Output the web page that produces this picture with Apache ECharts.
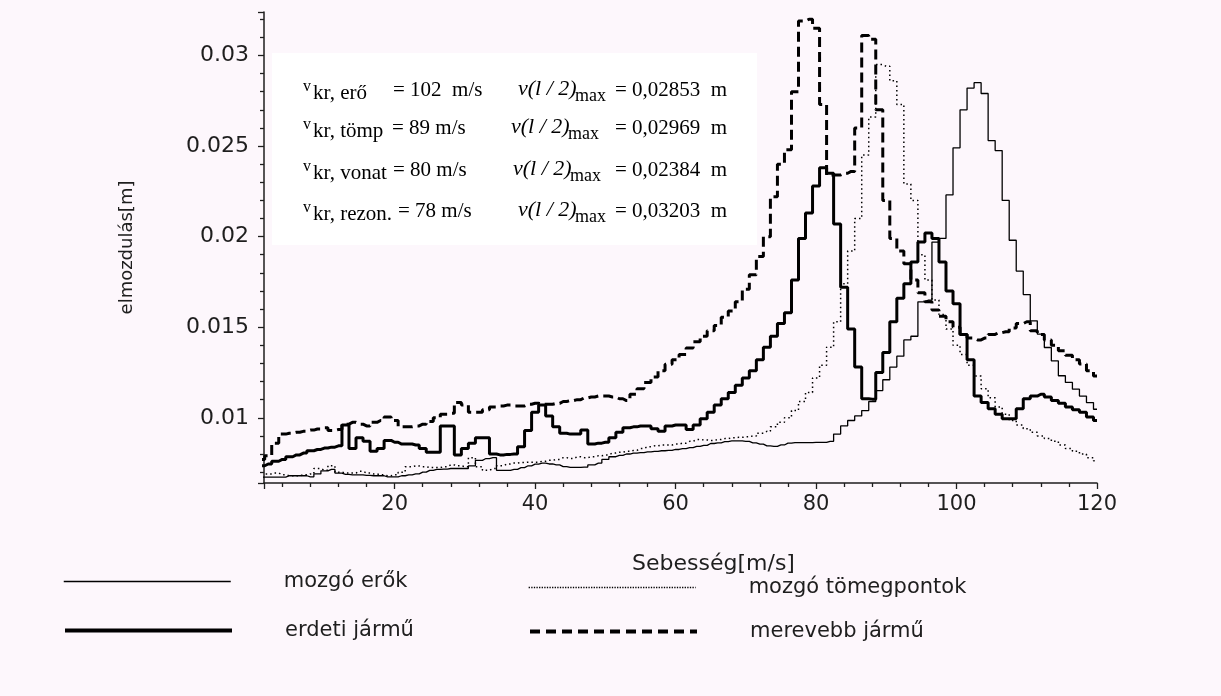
<!DOCTYPE html>
<html>
<head>
<meta charset="utf-8">
<script src="https://cdn.jsdelivr.net/npm/echarts@6/dist/echarts.min.js"></script>
<style>
  html, body { margin: 0; padding: 0; background: #fdf7fc; }
  #chart { width: 1221px; height: 696px; }
</style>
</head>
<body>
<div id="chart"></div>
<script>
// sebesség [m/s], 1..120
var speeds = []
for (var s = 1; s <= 120; s++) speeds.push(s)

// elmozdulás [m] minden sebességnél
var erok = [
  0.00672, 0.00672, 0.00672, 0.00672, 0.0068, 0.0068, 0.0068, 0.00674, 0.0069, 0.00707,
  0.00715, 0.00695, 0.00688, 0.00685, 0.00685, 0.00682, 0.0068, 0.0068, 0.00674, 0.00674,
  0.0068, 0.00685, 0.0069, 0.007, 0.0071, 0.00715, 0.00717, 0.0072, 0.0072, 0.0072,
  0.00735, 0.00765, 0.00775, 0.0078, 0.0071, 0.0071, 0.00715, 0.00725, 0.00735, 0.00744,
  0.0075, 0.00745, 0.0074, 0.0073, 0.00726, 0.00726, 0.00728, 0.0074, 0.0075, 0.0077,
  0.00785, 0.00792, 0.008, 0.00805, 0.00808, 0.00812, 0.00815, 0.00818, 0.0082, 0.00825,
  0.0083, 0.00835, 0.00842, 0.00848, 0.00858, 0.00862, 0.00868, 0.00872, 0.00872, 0.0087,
  0.00862, 0.00855, 0.00845, 0.00842, 0.0085, 0.0086, 0.00863, 0.00863, 0.00863, 0.00864,
  0.00864, 0.0087, 0.0091, 0.00955, 0.00985, 0.0101, 0.0104, 0.0109, 0.0115, 0.0121,
  0.0128, 0.0134, 0.0143, 0.0145, 0.0164, 0.0165, 0.0197, 0.0199, 0.0223, 0.0249,
  0.027, 0.0282, 0.0285, 0.0279, 0.0253, 0.02475, 0.022, 0.0198, 0.0181, 0.0168,
  0.01535, 0.01462, 0.01388, 0.01314, 0.01232, 0.01195, 0.01158, 0.0112, 0.01084, 0.01047
]
var tomegpont = [
  0.0069, 0.0069, 0.00695, 0.00685, 0.0068, 0.0068, 0.00685, 0.0069, 0.0072, 0.0071,
  0.00735, 0.007, 0.00695, 0.00695, 0.00705, 0.00695, 0.0069, 0.00685, 0.0068, 0.00685,
  0.007, 0.0073, 0.00734, 0.0073, 0.00725, 0.00725, 0.0073, 0.0074, 0.00735, 0.0073,
  0.0078, 0.0073, 0.0071, 0.0072, 0.00735, 0.00745, 0.0075, 0.00753, 0.00755, 0.00755,
  0.0076, 0.00765, 0.0077, 0.0078, 0.00775, 0.00785, 0.0078, 0.00785, 0.0079, 0.00795,
  0.00805, 0.0081, 0.00815, 0.0082, 0.0083, 0.0084, 0.00845, 0.0085, 0.0085, 0.00855,
  0.0086, 0.0087, 0.0088, 0.00878, 0.00875, 0.0088, 0.00885, 0.0089, 0.00892, 0.00895,
  0.009, 0.00915, 0.00925, 0.0095, 0.00975, 0.01, 0.0104, 0.0109, 0.0114, 0.0122,
  0.0129, 0.0139, 0.0153, 0.0174, 0.0192, 0.021, 0.0245, 0.0266, 0.0295, 0.0294,
  0.0286, 0.0273, 0.0229, 0.022, 0.019, 0.0176, 0.0165, 0.0157, 0.0149, 0.014,
  0.0135, 0.0129, 0.0123, 0.0116, 0.0111, 0.0106, 0.0102, 0.00985, 0.0096, 0.0094,
  0.0092, 0.009, 0.00885, 0.0087, 0.0085, 0.0083, 0.00815, 0.008, 0.0078, 0.00763
]
var erdeti = [
  0.00735, 0.00745, 0.0076, 0.0077, 0.00785, 0.00795, 0.00805, 0.00818, 0.00825, 0.00833,
  0.00838, 0.00845, 0.0096, 0.0083, 0.0089, 0.0087, 0.00815, 0.0083, 0.00875, 0.00865,
  0.00855, 0.00855, 0.0085, 0.0083, 0.0081, 0.0081, 0.00955, 0.00955, 0.00795, 0.0083,
  0.0086, 0.0089, 0.0089, 0.008, 0.00795, 0.00798, 0.008, 0.0084, 0.0093, 0.0103,
  0.0107, 0.0101, 0.0095, 0.00915, 0.0091, 0.0091, 0.00932, 0.00855, 0.0086, 0.00865,
  0.0089, 0.0092, 0.00945, 0.0095, 0.00955, 0.00955, 0.0094, 0.00925, 0.00955, 0.0096,
  0.0096, 0.00935, 0.0096, 0.00995, 0.0103, 0.0107, 0.01105, 0.0114, 0.0118, 0.0122,
  0.0126, 0.0132, 0.0139, 0.0145, 0.0152, 0.0158, 0.0176, 0.0199, 0.0213, 0.0228,
  0.0238, 0.0235, 0.0207, 0.0172, 0.0149, 0.0128, 0.01105, 0.01103, 0.0125, 0.0136,
  0.0153, 0.0166, 0.0174, 0.0186, 0.0197, 0.0202, 0.0199, 0.0186, 0.017, 0.0163,
  0.0146, 0.0132, 0.0112, 0.01085, 0.0105, 0.0102, 0.00995, 0.00995, 0.0105, 0.01105,
  0.0112, 0.0113, 0.01115, 0.01095, 0.0108, 0.0106, 0.01045, 0.0103, 0.01005, 0.00985
]
var merevebb = [
  0.0077, 0.0079, 0.0086, 0.0091, 0.00915, 0.0092, 0.00925, 0.00932, 0.00938, 0.00945,
  0.0093, 0.00935, 0.00965, 0.00975, 0.00965, 0.00955, 0.00975, 0.00985, 0.01005, 0.00985,
  0.0095, 0.0095, 0.00955, 0.00965, 0.0098, 0.01, 0.0102, 0.01025, 0.01085, 0.0107,
  0.0103, 0.0103, 0.01045, 0.0106, 0.01065, 0.0107, 0.01065, 0.01065, 0.01075, 0.0108,
  0.01075, 0.01075, 0.0108, 0.0109, 0.01095, 0.011, 0.0111, 0.01115, 0.0112, 0.0112,
  0.01115, 0.01105, 0.01095, 0.0113, 0.0116, 0.01195, 0.01225, 0.0126, 0.01295, 0.0132,
  0.0135, 0.01385, 0.0142, 0.0145, 0.0148, 0.0151, 0.01555, 0.0159, 0.0164, 0.0171,
  0.0179, 0.0189, 0.02, 0.0222, 0.024, 0.0248, 0.028, 0.0319, 0.032, 0.0315,
  0.0273, 0.0234, 0.0234, 0.0235, 0.0236, 0.026, 0.0311, 0.0309, 0.027, 0.022,
  0.0199, 0.0192, 0.0185, 0.0176, 0.0169, 0.0164, 0.01595, 0.0156, 0.0153, 0.015,
  0.0146, 0.0144, 0.0143, 0.0144, 0.0146, 0.0147, 0.01475, 0.01495, 0.0152, 0.0153,
  0.0148, 0.0146, 0.0143, 0.014, 0.0137, 0.01345, 0.0132, 0.01297, 0.0126, 0.0123
]

var seriesNames = ['mozgó erők', 'mozgó tömegpontok', 'erdeti jármű', 'merevebb jármű']

// szövegdoboz
var annotSubs = ['kr, erő', 'kr, tömp', 'kr, vonat', 'kr, rezon.']
var annotSpeeds = ['= 102  m/s', '= 89 m/s', '= 80 m/s', '= 78 m/s']
var annotMax = ['= 0,02853  m', '= 0,02969  m', '= 0,02384  m', '= 0,03203  m']

var rowBase = [97, 135, 177, 218]
var eqX = [393, 392, 393, 398]
var vlX = [518, 511, 513, 518]

function pairs(arr) {
  return speeds.map(function (v, i) { return [v, arr[i]] })
}

function isMultiple(v, step) {
  var r = Math.round(v / step)
  return Math.abs(v - r * step) < 1e-9
}

var labelFont = 'DejaVu Sans'
var ink = '#1e1e1e'

var graphics = [{
  type: 'rect',
  shape: { x: 272, y: 53, width: 485, height: 192 },
  style: { fill: '#ffffff' },
  z: 0
}]
for (var i = 0; i < 4; i++) {
  var b = rowBase[i]
  graphics.push({ type: 'text', x: 303, y: b - 10, z: 5,
    style: { text: 'v', font: '16px "Liberation Serif"', fill: '#000', verticalAlign: 'middle' } })
  graphics.push({ type: 'text', x: 313, y: b - 4, z: 5,
    style: { text: annotSubs[i], font: '21px "Liberation Serif"', fill: '#000', verticalAlign: 'middle' } })
  graphics.push({ type: 'text', x: eqX[i], y: b - 7, z: 5,
    style: { text: annotSpeeds[i], font: '21px "Liberation Serif"', fill: '#000', verticalAlign: 'middle' } })
  graphics.push({ type: 'text', x: vlX[i], y: b - 8, z: 5,
    style: { text: 'v(l / 2)', font: 'italic 22px "Liberation Serif"', fill: '#000', verticalAlign: 'middle' } })
  graphics.push({ type: 'text', x: vlX[i] + 57, y: b - 1, z: 5,
    style: { text: 'max', font: '18px "Liberation Serif"', fill: '#000', verticalAlign: 'middle' } })
  graphics.push({ type: 'text', x: 615, y: b - 7, z: 5,
    style: { text: annotMax[i], font: '21px "Liberation Serif"', fill: '#000', verticalAlign: 'middle' } })
}

function legendAt(name, left, top, line) {
  return {
    data: [name],
    left: left,
    top: top,
    padding: 0,
    itemWidth: 167,
    itemHeight: 14,
    selectedMode: false,
    itemStyle: { opacity: 0 },
    lineStyle: line,
    textStyle: { fontFamily: labelFont, fontSize: 21, color: ink, padding: [0, 0, 0, 48] }
  }
}

var chart = echarts.init(document.getElementById('chart'))

var option = {
  animation: false,
  backgroundColor: '#fdf7fc',
  color: ['#000', '#000', '#000', '#000'],
  grid: { left: 264, right: 124, top: 12, bottom: 213 },
  legend: [
    legendAt(seriesNames[0], 63, 571, { color: '#000', width: 1.5, type: 'solid' }),
    legendAt(seriesNames[1], 528, 577, { color: '#000', width: 1.3, type: [1.3, 1.3] }),
    legendAt(seriesNames[2], 63, 620, { color: '#000', width: 4, type: 'solid' }),
    legendAt(seriesNames[3], 528, 621, { color: '#000', width: 4, type: [10, 6] })
  ],
  xAxis: {
    type: 'value',
    min: 1.4,
    max: 120,
    minInterval: 20,
    maxInterval: 20,
    name: 'Sebesség[m/s]',
    nameLocation: 'middle',
    nameGap: 70,
    nameTextStyle: { fontFamily: labelFont, fontSize: 22, color: ink, padding: [0, 0, 0, 66] },
    axisLine: { show: true, lineStyle: { color: ink, width: 1.5 } },
    axisTick: { show: true, length: 6, lineStyle: { color: ink, width: 1.3 } },
    minorTick: { show: true, splitNumber: 5, length: 4, lineStyle: { color: ink, width: 1.3 } },
    splitLine: { show: false },
    axisLabel: {
      margin: 11,
      fontFamily: labelFont,
      fontSize: 21,
      color: ink,
      formatter: function (v) { return isMultiple(v, 20) ? String(Math.round(v)) : '' }
    }
  },
  yAxis: {
    type: 'value',
    min: 0.0064,
    max: 0.0324,
    minInterval: 0.005,
    maxInterval: 0.005,
    name: 'elmozdulás[m]',
    nameLocation: 'middle',
    nameRotate: 90,
    nameGap: 128,
    nameTextStyle: { fontFamily: labelFont, fontSize: 18, color: ink },
    axisLine: { show: true, lineStyle: { color: ink, width: 1.5 } },
    axisTick: { show: true, length: 6, lineStyle: { color: ink, width: 1.3 } },
    minorTick: { show: true, splitNumber: 5, length: 4, lineStyle: { color: ink, width: 1.3 } },
    splitLine: { show: false },
    axisLabel: {
      margin: 15,
      fontFamily: labelFont,
      fontSize: 22,
      color: ink,
      formatter: function (v) { return isMultiple(v, 0.005) ? String(parseFloat(v.toFixed(4))) : '' }
    }
  },
  graphic: graphics,
  series: [
    {
      name: seriesNames[0], type: 'line', step: 'middle', symbol: 'none', z: 3,
      data: pairs(erok),
      lineStyle: { color: '#000', width: 1.3 }
    },
    {
      name: seriesNames[1], type: 'line', step: 'middle', symbol: 'none', z: 3,
      data: pairs(tomegpont),
      lineStyle: { color: '#000', width: 1.5, type: [1.5, 3] }
    },
    {
      name: seriesNames[2], type: 'line', step: 'middle', symbol: 'none', z: 4,
      data: pairs(erdeti),
      lineStyle: { color: '#000', width: 3 }
    },
    {
      name: seriesNames[3], type: 'line', step: 'middle', symbol: 'none', z: 4,
      data: pairs(merevebb),
      lineStyle: { color: '#000', width: 3, type: [10, 5] }
    }
  ]
}

chart.setOption(option)
</script>
</body>
</html>
